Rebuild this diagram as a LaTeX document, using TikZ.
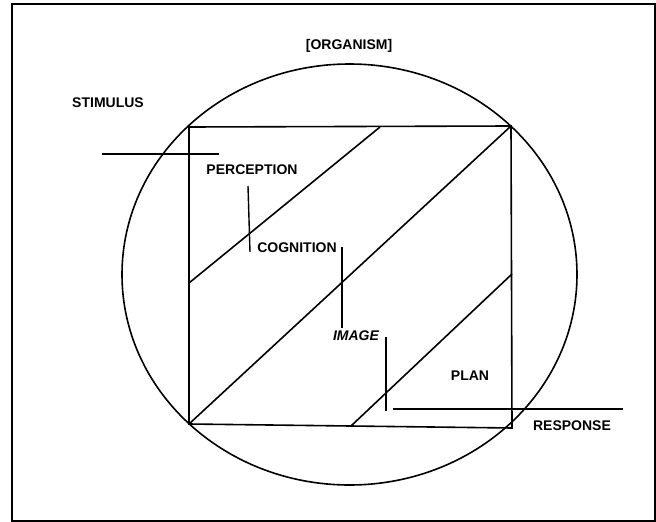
\documentclass[tikz,border=0pt]{standalone}
\usepackage{fontspec}
\setmainfont{Liberation Sans}
\tikzset{
  orgframe/.style={line width=1.4pt, draw=black},
  orgline/.style={line width=1.6pt, draw=black, line cap=butt},
  orgtick/.style={line width=1.4pt, draw=black, line cap=butt},
  orglabel/.style={font=\fontsize{14}{16}\selectfont\bfseries, inner sep=0pt},
}
\begin{document}
\begin{tikzpicture}[x=1pt,y=-1pt]
\useasboundingbox (0,0) rectangle (656,522);
\draw[orgframe] (12,4) rectangle (655,521);
% organism and the square inside it
\draw[orgline] (349.5,274.5) ellipse (227.5 and 210.5);
\coordinate (tl) at (189,127);
\coordinate (tr) at (511,126);
\coordinate (br) at (512,428);
\coordinate (bl) at (189,424);
\draw[orgline] (tl) -- (tr) -- (br) -- (bl) -- cycle;
\draw[orgline] (189,283) -- (380,127);
\draw[orgline] (bl) -- (tr);
\draw[orgline] (351,426) -- (512,274);
% in and out
\draw[orgline] (102,154) -- (219,154);
\draw[orgline] (393,409) -- (623,409);
\draw[orgtick] (248,186) -- (250,252);
\draw[orgtick] (342,247) -- (342,328);
\draw[orgtick] (386,337) -- (386,411);
% labels
\node[orglabel] (organism) at (349,46) {[ORGANISM]};
\node[orglabel] (stimulus) at (108,103) {STIMULUS};
\node[orglabel] (perception) at (252,170) {PERCEPTION};
\node[orglabel] (cognition) at (297,248) {COGNITION};
\node[orglabel, font=\fontsize{14}{16}\selectfont\bfseries\itshape] (image) at (356,336) {IMAGE};
\node[orglabel] (plan) at (470,376) {PLAN};
\node[orglabel] (response) at (572,426) {RESPONSE};
\end{tikzpicture}
\end{document}
